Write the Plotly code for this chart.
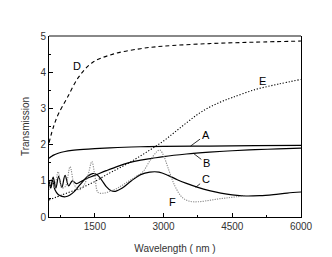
import plotly.graph_objects as go

# Curve A (solid)
a_x = [500, 550, 600, 700, 850, 1000, 1250, 1500, 2000, 2500, 3000, 4000, 5000, 6000]
a_y = [1.62, 1.67, 1.71, 1.76, 1.81, 1.84, 1.87, 1.89, 1.92, 1.94, 1.95, 1.96, 1.97, 1.98]

# Curve B (solid)
b_x = [500, 540, 590, 650, 710, 780, 850, 930, 1010, 1100, 1200, 1300, 1500, 1750, 2000, 2250, 2500, 2750, 3000, 3500, 4000, 4500, 5000, 5500, 6000]
b_y = [0.95, 0.8, 1.1, 0.8, 1.12, 0.82, 1.15, 0.86, 1.0, 0.92, 0.98, 1.05, 1.15, 1.28, 1.4, 1.5, 1.57, 1.62, 1.67, 1.74, 1.79, 1.83, 1.86, 1.88, 1.9]

# Curve C (solid)
c_x = [500, 540, 580, 630, 700, 780, 860, 950, 1050, 1150, 1250, 1350, 1450, 1550, 1650, 1750, 1850, 1950, 2100, 2300, 2500, 2700, 2900, 3100, 3300, 3500, 3750, 4000, 4250, 4500, 4800, 5100, 5400, 5700, 6000]
c_y = [1.0, 0.85, 1.0, 0.75, 0.62, 0.57, 0.56, 0.6, 0.7, 0.85, 1.0, 1.13, 1.2, 1.17, 1.02, 0.84, 0.73, 0.71, 0.8, 1.0, 1.17, 1.24, 1.24, 1.15, 1.03, 0.93, 0.82, 0.73, 0.66, 0.61, 0.58, 0.59, 0.62, 0.66, 0.69]

# Curve D (dashed)
d_x = [500, 600, 700, 900, 1150, 1450, 1900, 2500, 3000, 4000, 5000, 6000]
d_y = [2.05, 2.5, 2.83, 3.3, 3.87, 4.27, 4.5, 4.65, 4.72, 4.79, 4.83, 4.86]

# Curve E (dotted)
e_x = [500, 800, 1000, 1250, 1500, 1800, 2000, 2250, 2500, 2750, 3000, 3250, 3500, 3750, 4000, 4250, 4500, 5000, 5500, 6000]
e_y = [0.47, 0.62, 0.71, 0.83, 0.98, 1.2, 1.33, 1.5, 1.69, 1.89, 2.1, 2.35, 2.6, 2.84, 3.03, 3.18, 3.3, 3.52, 3.67, 3.8]

# Curve F (grey dotted)
f_x = [500, 560, 620, 700, 780, 860, 960, 1050, 1150, 1250, 1350, 1435, 1500, 1570, 1700, 1850, 2000, 2200, 2400, 2550, 2700, 2850, 2920, 3000, 3100, 3250, 3400, 3550, 3750, 4000, 4200, 4400, 4600, 4800]
f_y = [0.75, 1.05, 0.8, 1.25, 0.8, 0.85, 1.39, 0.9, 0.75, 0.85, 1.15, 1.53, 1.15, 0.68, 0.66, 0.72, 0.8, 0.96, 1.12, 1.25, 1.55, 1.8, 1.85, 1.7, 1.35, 0.85, 0.55, 0.44, 0.42, 0.46, 0.5, 0.53, 0.56, 0.58]

x_ticks = [1500, 3000, 4500, 6000]
y_ticks = [0, 1, 2, 3, 4, 5]

fig = go.Figure()
lw = 1.2
fig.add_trace(go.Scatter(x=a_x, y=a_y, mode="lines", line=dict(color="black", width=lw, shape="spline")))
fig.add_trace(go.Scatter(x=b_x, y=b_y, mode="lines", line=dict(color="black", width=lw, shape="spline")))
fig.add_trace(go.Scatter(x=c_x, y=c_y, mode="lines", line=dict(color="black", width=lw, shape="spline")))
fig.add_trace(go.Scatter(x=d_x, y=d_y, mode="lines", line=dict(color="black", width=1.1, dash="4px,3px", shape="spline")))
fig.add_trace(go.Scatter(x=e_x, y=e_y, mode="lines", line=dict(color="black", width=1.1, dash="1.2px,1.8px", shape="spline")))
fig.add_trace(go.Scatter(x=f_x, y=f_y, mode="lines", line=dict(color="#888888", width=1.1, dash="1.2px,1.2px", shape="spline")))

font = dict(family="Liberation Sans, Arial, sans-serif", size=10, color="#333333")

# page body has an 8px margin, so the figure is sized/offset to compensate
fig.update_layout(
    width=324, height=249,
    margin=dict(l=41, r=31, t=28, b=40),
    paper_bgcolor="white", plot_bgcolor="white",
    showlegend=False,
    font=font,
    xaxis=dict(range=[500, 6000], tickvals=x_ticks, ticks="inside", ticklen=4, tickcolor="black",
               showline=True, linecolor="black", linewidth=1, showgrid=False, zeroline=False,
               minor=dict(tickvals=[750, 2250, 3750, 5250], ticks="inside", ticklen=2, tickcolor="black"),
               ticklabelstandoff=0, automargin=False,
               title=dict(text="Wavelength ( nm )", font=font, standoff=13), tickfont=font),
    yaxis=dict(range=[0, 5], tickvals=y_ticks, ticks="inside", ticklen=4, tickcolor="black",
               showline=True, linecolor="black", linewidth=1, mirror=True, showgrid=False, zeroline=False,
               minor=dict(dtick=0.5, ticks="inside", ticklen=2, tickcolor="black"), automargin=False,
               title=dict(text="Transmission", font=font, standoff=8), tickfont=font),
    shapes=[dict(type="line", xref="paper", yref="paper", x0=0, x1=1, y0=1, y1=1,
                 line=dict(color="#888888", width=2))],
)

lab_font = dict(family="Liberation Sans, Arial, sans-serif", size=11, color="black")
ann = [
    dict(x=3590, y=1.96, text="A", ax=15, ay=-11),
    dict(x=3650, y=1.76, text="B", ax=13, ay=10),
    dict(x=3700, y=0.82, text="C", ax=10, ay=-8),
]
for a in ann:
    fig.add_annotation(x=a["x"], y=a["y"], text=a["text"], showarrow=True, arrowhead=0,
                       arrowwidth=0.8, arrowcolor="black", ax=a["ax"], ay=a["ay"],
                       font=lab_font, standoff=0, startstandoff=0)
for t, x, y in [("D", 1110, 4.17), ("E", 5170, 3.75), ("F", 3190, 0.42)]:
    fig.add_annotation(x=x, y=y, text=t, showarrow=False, font=lab_font)

fig.write_html("out.html")
